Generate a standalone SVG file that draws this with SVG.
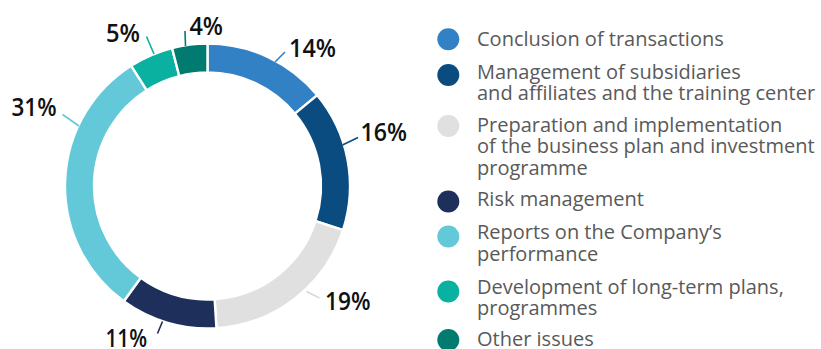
<svg xmlns="http://www.w3.org/2000/svg" width="821" height="349" viewBox="0 0 821 349">
<style>
.seg{stroke:#fff;stroke-width:2.4;stroke-linejoin:miter}
.pct{font-family:"Open Sans","Liberation Sans",sans-serif;font-weight:600;font-size:25.5px;fill:#111}
.lg{font-family:"Open Sans","Liberation Sans",sans-serif;font-size:20px;fill:#595959}
.ld{stroke-width:1.6;fill:none}
.c1{fill:#3281c4}.c2{fill:#0b4c80}.c3{fill:#e0e0e0}.c4{fill:#1e2f5b}.c5{fill:#63c9d9}.c6{fill:#0ab1a0}.c7{fill:#017a6f}
</style>
<rect width="821" height="349" fill="#fff"/>
<g id="seg-transactions">
<path class="seg c1" d="M207.5,43.5 A142.5,142.5 0 0 1 317.3,95.17 L294.95,113.65 A113.5,113.5 0 0 0 207.5,72.5 Z"/>
<text class="pct" x="289" y="56.7" textLength="47" lengthAdjust="spacingAndGlyphs">14%</text>
</g>
<g id="seg-subsidiaries">
<path class="seg c2" d="M317.3,95.17 A142.5,142.5 0 0 1 343.03,230.04 L315.45,221.07 A113.5,113.5 0 0 0 294.95,113.65 Z"/>
<text class="pct" x="360.5" y="140.7" textLength="46.5" lengthAdjust="spacingAndGlyphs">16%</text>
</g>
<g id="seg-businessplan">
<path class="seg c3" d="M343.03,230.04 A142.5,142.5 0 0 1 216.45,328.22 L214.63,299.28 A113.5,113.5 0 0 0 315.45,221.07 Z"/>
<text class="pct" x="325" y="310" textLength="45.5" lengthAdjust="spacingAndGlyphs">19%</text>
</g>
<g id="seg-risk">
<path class="seg c4" d="M216.45,328.22 A142.5,142.5 0 0 1 123.74,301.29 L140.79,277.82 A113.5,113.5 0 0 0 214.63,299.28 Z"/>
<text class="pct" x="105.5" y="346.8" textLength="41.5" lengthAdjust="spacingAndGlyphs">11%</text>
</g>
<g id="seg-reports">
<path class="seg c5" d="M123.74,301.29 A142.5,142.5 0 0 1 131.14,65.68 L146.68,90.17 A113.5,113.5 0 0 0 140.79,277.82 Z"/>
<text class="pct" x="11.5" y="116" textLength="45" lengthAdjust="spacingAndGlyphs">31%</text>
</g>
<g id="seg-longterm">
<path class="seg c6" d="M131.14,65.68 A142.5,142.5 0 0 1 172.06,47.98 L179.27,76.07 A113.5,113.5 0 0 0 146.68,90.17 Z"/>
<text class="pct" x="106" y="42.3" textLength="34" lengthAdjust="spacingAndGlyphs">5%</text>
</g>
<g id="seg-other">
<path class="seg c7" d="M172.06,47.98 A142.5,142.5 0 0 1 207.5,43.5 L207.5,72.5 A113.5,113.5 0 0 0 179.27,76.07 Z"/>
<text class="pct" x="189.5" y="35" textLength="33.5" lengthAdjust="spacingAndGlyphs">4%</text>
</g>
<g id="connectors">
<line class="ld" x1="275" y1="62" x2="285" y2="52" stroke="#3281c4"/>
<line class="ld" x1="342.5" y1="145" x2="358" y2="137.5" stroke="#0b4c80"/>
<line class="ld" x1="306.5" y1="291.5" x2="319.5" y2="298" stroke="#d9d9d9"/>
<line class="ld" x1="157.5" y1="333.5" x2="162.5" y2="321.5" stroke="#1e2f5b"/>
<line class="ld" x1="62.5" y1="114.5" x2="79" y2="126" stroke="#63c9d9"/>
<line class="ld" x1="146.5" y1="36.5" x2="154" y2="54" stroke="#0ab1a0"/>
<line class="ld" x1="185" y1="31" x2="185.5" y2="46" stroke="#017a6f"/>
</g>
<g id="legend">
<g id="lg-transactions"><circle class="c1" cx="448.3" cy="39.3" r="11"/><text class="lg" x="477" y="46">Conclusion of transactions</text></g>
<g id="lg-subsidiaries"><circle class="c2" cx="448.3" cy="75" r="11"/><text class="lg" x="477" y="78.5">Management of subsidiaries</text><text class="lg" x="477" y="100">and affiliates and the training center</text></g>
<g id="lg-businessplan"><circle class="c3" cx="448.3" cy="126" r="11"/><text class="lg" x="477" y="131.5">Preparation and implementation</text><text class="lg" x="477" y="152.5">of the business plan and investment</text><text class="lg" x="477" y="174.5">programme</text></g>
<g id="lg-risk"><circle class="c4" cx="448.3" cy="201.5" r="11"/><text class="lg" x="477" y="205.5">Risk management</text></g>
<g id="lg-reports"><circle class="c5" cx="448.3" cy="236.5" r="11"/><text class="lg" x="477" y="239">Reports on the Company’s</text><text class="lg" x="477" y="260.5">performance</text></g>
<g id="lg-longterm"><circle class="c6" cx="448.3" cy="291.5" r="11"/><text class="lg" x="477" y="293.5">Development of long-term plans,</text><text class="lg" x="477" y="314.5">programmes</text></g>
<g id="lg-other"><circle class="c7" cx="448.3" cy="340" r="11"/><text class="lg" x="477" y="345.5">Other issues</text></g>
</g>
</svg>
